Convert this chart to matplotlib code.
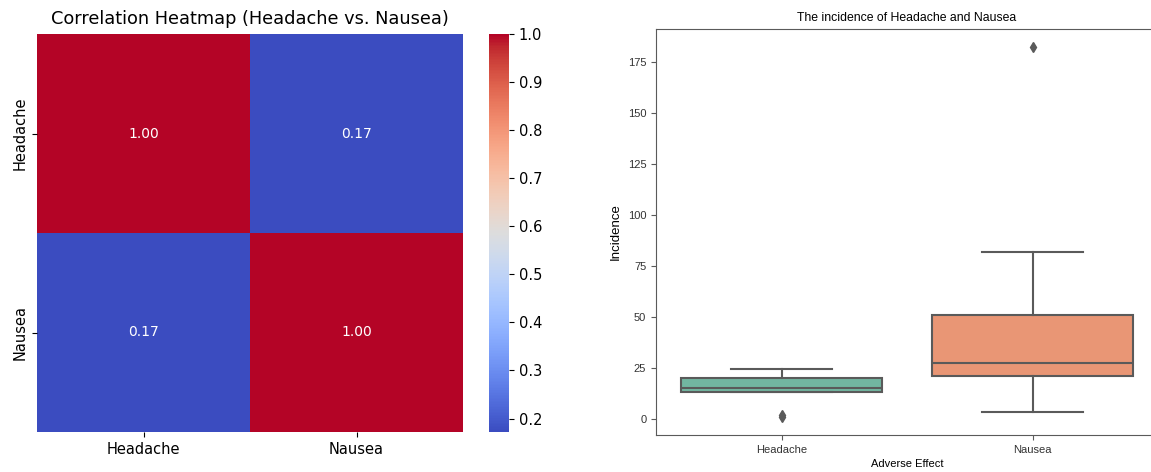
import matplotlib
matplotlib.use("Agg")
import matplotlib.pyplot as plt
import numpy as np
import seaborn as sns

# correlation matrix (left)
effects = ["Headache", "Nausea"]
corr_values = [[1.0, 0.172],
               [0.172, 1.0]]

# box statistics
box_labels = ["Headache", "Nausea"]
whisker_low = [13, 3.4]
q1 = [13, 21]
median = [15, 27.5]
q3 = [20, 51]
whisker_high = [24.5, 81.5]
outliers = [[1, 2], [182]]

box_colors = ["#72b6a1", "#e99675"]
line_gray = "#5a5a5a"

fig = plt.figure(figsize=(11.51, 4.72), dpi=100)
W, H = 1151, 472

def px_axes(x0, y0, x1, y1):
    return fig.add_axes([x0 / W, 1 - y1 / H, (x1 - x0) / W, (y1 - y0) / H])

# ---- heatmap
ax1 = px_axes(37, 34, 463, 432)
cax = px_axes(489, 34, 509, 432)
sns.heatmap(np.array(corr_values), annot=True, fmt=".2f", cmap="coolwarm",
            xticklabels=effects, yticklabels=effects, ax=ax1, cbar_ax=cax,
            annot_kws={"fontsize": 10})
ax1.set_title("Correlation Heatmap (Headache vs. Nausea)", fontsize=12.8, pad=7)
ax1.tick_params(labelsize=10.5)
plt.setp(ax1.get_yticklabels(), rotation=90, va="center")
cax.tick_params(labelsize=10.5)

# ---- box plot
font2 = ["Liberation Sans", "DejaVu Sans"]
ax2 = px_axes(656, 29, 1158, 435)
stats = []
for i in range(len(box_labels)):
    stats.append(dict(label=box_labels[i], whislo=whisker_low[i], q1=q1[i],
                      med=median[i], q3=q3[i], whishi=whisker_high[i],
                      fliers=outliers[i]))
bp = ax2.bxp(stats, positions=range(len(stats)), widths=0.8, patch_artist=True,
             boxprops=dict(edgecolor=line_gray, linewidth=1.5),
             medianprops=dict(color=line_gray, linewidth=1.5),
             whiskerprops=dict(color=line_gray, linewidth=1.5),
             capprops=dict(color=line_gray, linewidth=1.5),
             capwidths=0.4,
             flierprops=dict(marker="d", markersize=5, markerfacecolor=line_gray,
                             markeredgecolor=line_gray))
for patch, c in zip(bp["boxes"], box_colors):
    patch.set_facecolor(c)
ax2.set_xlim(-0.5, 1.5)
ax2.set_yticks([0, 25, 50, 75, 100, 125, 150, 175])
ax2.set_title("The incidence of Headache and Nausea", fontsize=8.8,
              family=font2, pad=6)
ax2.set_xlabel("Adverse Effect", fontsize=8, family=font2, labelpad=3)
ax2.set_ylabel("Incidence", fontsize=9.5, family=font2, labelpad=4)
ax2.tick_params(labelsize=8, color=line_gray, length=3.5, labelcolor="#333333")
for lab in ax2.get_xticklabels() + ax2.get_yticklabels():
    lab.set_family(font2)
for sp in ax2.spines.values():
    sp.set_color(line_gray)

fig.savefig("out.png", dpi=100)
